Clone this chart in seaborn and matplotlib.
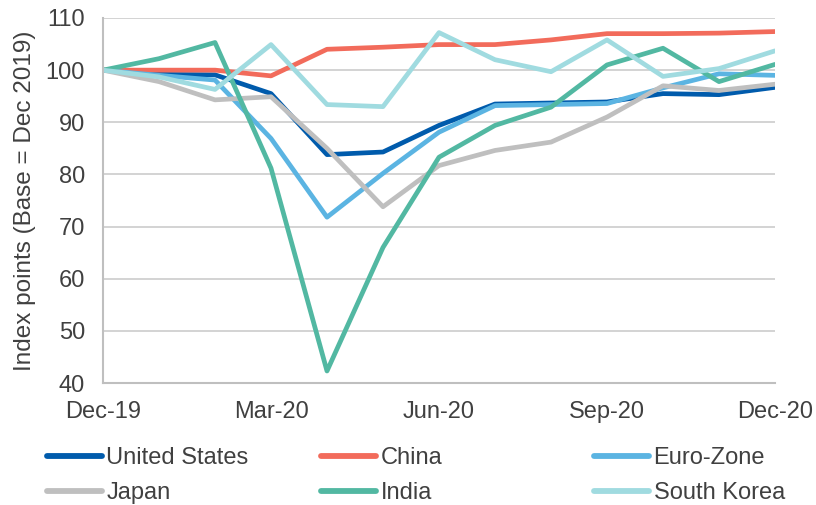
import matplotlib
matplotlib.use("Agg")
import matplotlib.pyplot as plt
import seaborn as sns
import pandas as pd

months = ["Dec-19", "Jan-20", "Feb-20", "Mar-20", "Apr-20", "May-20", "Jun-20",
          "Jul-20", "Aug-20", "Sep-20", "Oct-20", "Nov-20", "Dec-20"]
tick_labels = ["Dec-19", "Mar-20", "Jun-20", "Sep-20", "Dec-20"]

united_states = [100, 99.2, 99.1, 95.5, 83.8, 84.3, 89.4, 93.5, 93.7, 93.9, 95.5, 95.3, 96.7]
china = [100, 100, 100, 98.9, 104.0, 104.4, 104.9, 104.9, 105.8, 107.0, 107.0, 107.1, 107.4]
euro_zone = [100, 99.0, 98.1, 86.9, 71.8, 80.2, 88.1, 93.2, 93.4, 93.6, 96.6, 99.3, 99.0]
japan = [100, 97.8, 94.3, 94.9, 85.0, 73.8, 81.7, 84.6, 86.2, 91.0, 97.0, 96.1, 97.3]
india = [100, 102.2, 105.3, 81.2, 42.3, 66.0, 83.3, 89.4, 92.9, 101.0, 104.2, 97.8, 101.1]
south_korea = [100, 98.7, 96.3, 104.9, 93.4, 93.0, 107.2, 102.0, 99.7, 105.8, 98.8, 100.3, 103.7]

countries = ["United States", "China", "Euro-Zone", "Japan", "India", "South Korea"]
series = [united_states, china, euro_zone, japan, india, south_korea]
colors = ["#005BAC", "#F26B5B", "#5BB4E2", "#BFBFBF", "#52B8A2", "#A0DBE0"]

rows = []
for name, values in zip(countries, series):
    for i, v in enumerate(values):
        rows.append({"month": i, "country": name, "value": v})
df = pd.DataFrame(rows)

sns.set_style("white")
plt.rcParams["font.family"] = ["Liberation Sans", "DejaVu Sans"]
text_color = "#404040"
grid_color = "#D0D0D0"
spine_color = "#BFBFBF"

fig = plt.figure(figsize=(8.16, 5.05), dpi=100)
ax = fig.add_axes([103 / 816, 1 - 383 / 505, 672 / 816, 365 / 505])

sns.lineplot(data=df, x="month", y="value", hue="country", hue_order=countries,
             palette=dict(zip(countries, colors)), linewidth=3.4, ax=ax)

ax.set_xlim(0, 12)
ax.set_ylim(40, 110)
ax.set_yticks(range(40, 111, 10))
ax.set_xticks([0, 3, 6, 9, 12])
ax.set_xticklabels(tick_labels)
ax.set_xlabel("")
ax.set_ylabel("Index points (Base = Dec 2019)", fontsize=17.5, color=text_color, labelpad=7)

ax.grid(axis="y", color=grid_color, linewidth=1.3)
ax.set_axisbelow(True)
for side in ["top", "right"]:
    ax.spines[side].set_visible(False)
for side in ["left", "bottom"]:
    ax.spines[side].set_color(spine_color)
    ax.spines[side].set_linewidth(1.5)
ax.tick_params(axis="both", colors=spine_color, labelcolor=text_color, labelsize=17,
               length=5, width=1.3, direction="out")
ax.tick_params(axis="y", pad=8)
ax.tick_params(axis="x", pad=8)

handles, labels = ax.get_legend_handles_labels()
ax.get_legend().remove()
for h in handles:
    h.set_linewidth(4.2)
    h.set_solid_capstyle("round")

col_x = [47, 321, 594]
for c, x in enumerate(col_x):
    idx = [c, c + 3]
    fig.legend([handles[i] for i in idx], [labels[i] for i in idx],
               loc="upper left", bbox_to_anchor=(x / 816, 1 - 447 / 505),
               frameon=False, fontsize=17, handlelength=2.35, handletextpad=0.17,
               labelspacing=0.55, borderpad=0, borderaxespad=0, labelcolor=text_color)

fig.savefig("out.png", dpi=100)
